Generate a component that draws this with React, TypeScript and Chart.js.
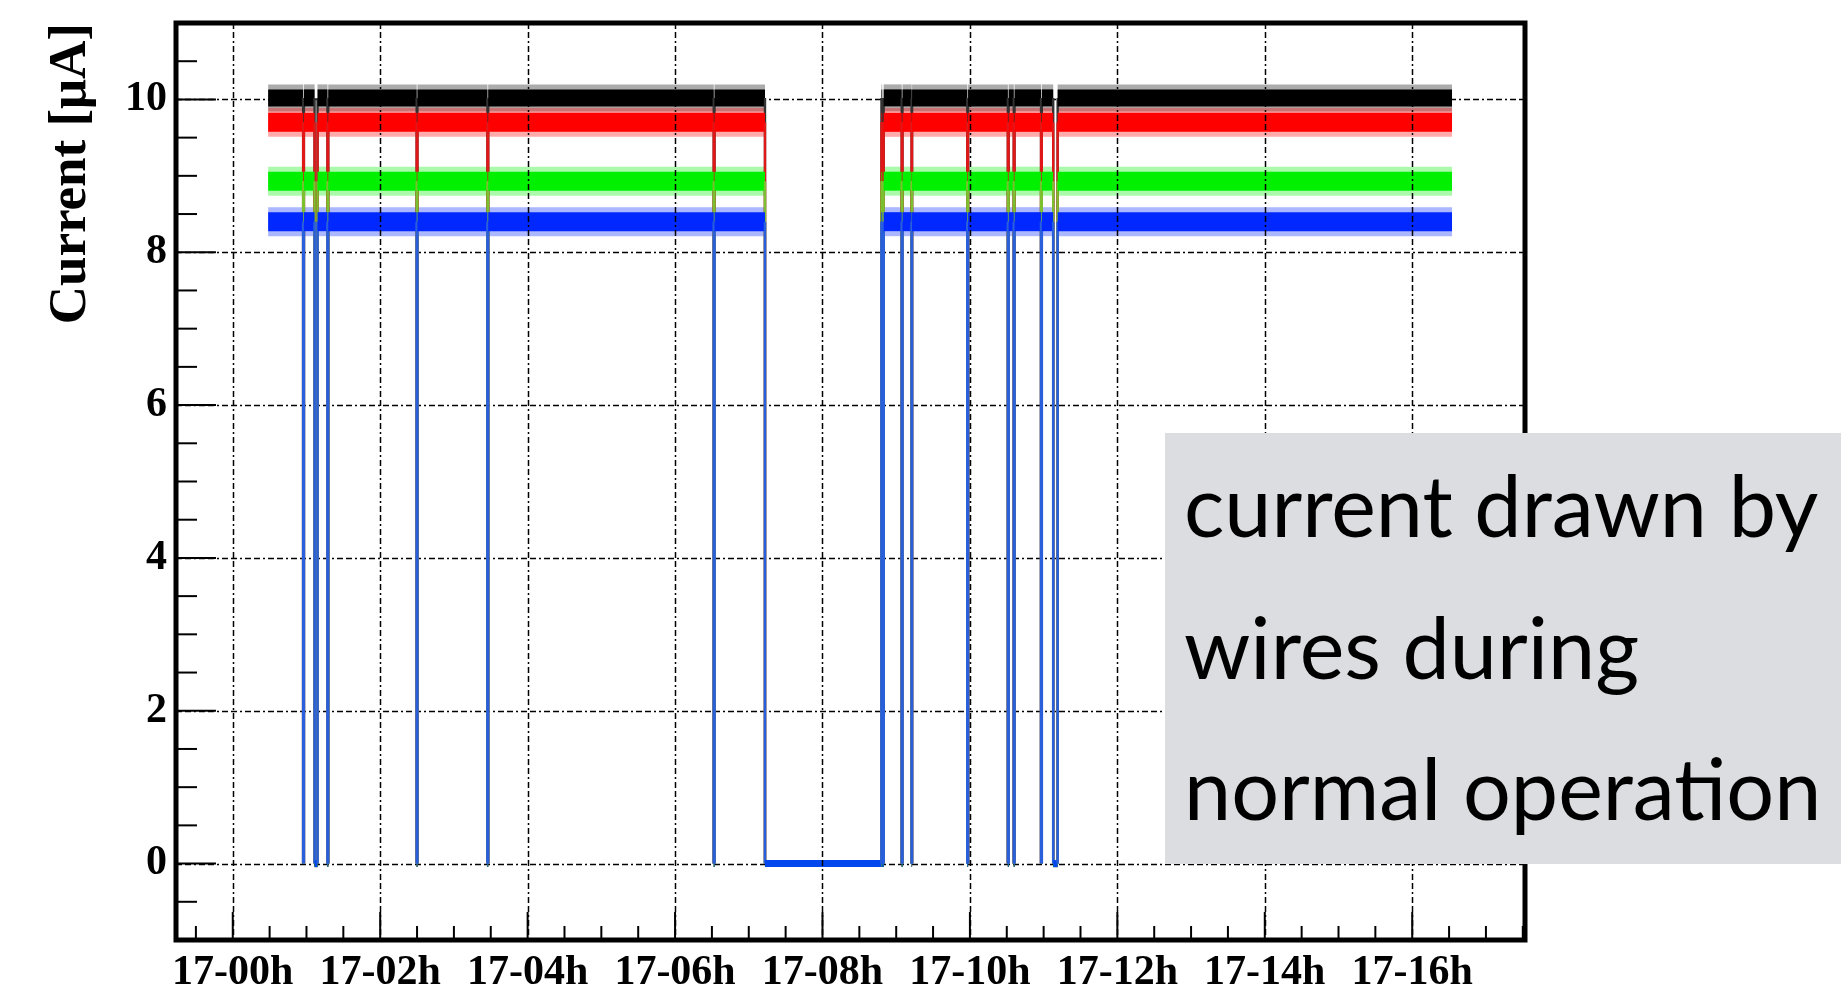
import React, { useEffect, useRef } from 'react';
import { Chart, registerables } from 'chart.js';

Chart.register(...registerables);

// ---- data (hours after 17-00h, current in µA) ----
const seriesNames = ['wire A', 'wire B', 'wire C', 'wire D'];
const seriesLevels = [10.02, 9.7, 8.93, 8.4];

const runStart = 0.48;
const runEnd = 16.54;
const tripStarts = [0.955, 1.11, 1.285, 2.495, 3.455, 6.525, 7.22, 8.81, 9.075, 9.21, 9.965, 10.515, 10.595, 10.965, 11.13];
const tripEnds = [0.965, 1.15, 1.295, 2.505, 3.465, 6.535, 8.8, 8.83, 9.085, 9.215, 9.975, 10.525, 10.605, 10.975, 11.19];

const xTickValues = [0, 2, 4, 6, 8, 10, 12, 14, 16];
const xTickLabels = ['17-00h', '17-02h', '17-04h', '17-06h', '17-08h', '17-10h', '17-12h', '17-14h', '17-16h'];
const yTickValues = [0, 2, 4, 6, 8, 10];
const yTickLabels = ['0', '2', '4', '6', '8', '10'];

const xMin = -0.77;
const xMax = 17.53;
const yMin = -1;
const yMax = 11;
const xMinorStep = 0.5;
const yMinorStep = 0.5;

// ---- styles ----
const seriesColors = ['#000000', '#ff0000', '#00f000', '#0028ff'];
const zeroColors = ['#000000', '#ff0000', '#00f000', '#0048ee'];
const haloColors = ['rgba(0,0,0,0.33)', 'rgba(255,0,0,0.33)', 'rgba(0,240,0,0.33)', 'rgba(0,40,255,0.33)'];
const dipColors = ['#333333', '#e01818', '#7cc030', '#2a5fdc'];
const dipWidths = [2.4, 2.4, 2.4, 2.6];
const bandWidths = [17, 19, 19, 19];
const zeroWidth = 7;
const haloExtra = 10;
const drawOrder = [3, 2, 1, 0];
const GRID_DASH = [6, 3, 6, 3, 2, 3];

function buildSeries(level: number) {
  const pts: { x: number; y: number }[] = [{ x: runStart, y: level }];
  tripStarts.forEach((s, i) => {
    pts.push({ x: s, y: level }, { x: s, y: 0 }, { x: tripEnds[i], y: 0 }, { x: tripEnds[i], y: level });
  });
  pts.push({ x: runEnd, y: level });
  return pts;
}

const SERIF = "'Liberation Serif', 'DejaVu Serif', serif";

const frameAndGrid = {
  id: 'frameAndGrid',
  beforeDatasetsDraw(chart: any) {
    const { ctx, chartArea: a, scales } = chart;
    const y = scales.y;
    ctx.save();
    ctx.strokeStyle = '#000';
    ctx.lineWidth = 1.5;
    ctx.setLineDash(GRID_DASH);
    yTickValues.forEach((v) => {
      const py = Math.round(y.getPixelForValue(v)) + 0.5;
      ctx.beginPath();
      ctx.moveTo(a.left, py);
      ctx.lineTo(a.right, py);
      ctx.stroke();
    });
    ctx.restore();
  },
  afterDatasetsDraw(chart: any) {
    const { ctx, chartArea: a, scales } = chart;
    const x = scales.x;
    const y = scales.y;
    ctx.save();
    ctx.strokeStyle = '#000';
    ctx.lineWidth = 1.5;
    ctx.setLineDash(GRID_DASH);
    xTickValues.forEach((v) => {
      const px = Math.round(x.getPixelForValue(v)) + 0.5;
      ctx.beginPath();
      ctx.moveTo(px, a.top);
      ctx.lineTo(px, a.bottom);
      ctx.stroke();
    });
    ctx.setLineDash([]);
    // inner tick marks
    ctx.lineWidth = 2;
    for (let v = yMin + yMinorStep; v < yMax - 1e-6; v += yMinorStep) {
      const major = yTickValues.some((t) => Math.abs(t - v) < 1e-6);
      const py = y.getPixelForValue(v);
      ctx.beginPath();
      ctx.moveTo(a.left, py);
      ctx.lineTo(a.left + (major ? 40 : 21), py);
      ctx.stroke();
    }
    const firstX = Math.ceil(xMin / xMinorStep) * xMinorStep;
    for (let v = firstX; v < xMax - 1e-6; v += xMinorStep) {
      const major = xTickValues.some((t) => Math.abs(t - v) < 1e-6);
      const px = x.getPixelForValue(v);
      ctx.beginPath();
      ctx.moveTo(px, a.bottom);
      ctx.lineTo(px, a.bottom - (major ? 28 : 14));
      ctx.stroke();
    }
    // thick frame
    ctx.lineWidth = 5;
    ctx.strokeRect(a.left, a.top, a.right - a.left, a.bottom - a.top);
    ctx.restore();
  },
};

export default function App() {
  const canvasRef = useRef<HTMLCanvasElement | null>(null);

  useEffect(() => {
    if (!canvasRef.current) return;
    const isDip = (ctx: any) => ctx.p0.parsed.x === ctx.p1.parsed.x;
    const isZero = (ctx: any) => ctx.p0.parsed.y === 0 && ctx.p1.parsed.y === 0;

    const bands = seriesNames.map((name, i) => ({
      label: name,
      data: buildSeries(seriesLevels[i]),
      borderColor: seriesColors[i],
      backgroundColor: seriesColors[i],
      borderWidth: bandWidths[i],
      borderCapStyle: 'butt',
      borderJoinStyle: 'miter',
      pointRadius: 0,
      tension: 0,
      fill: false,
      order: drawOrder[i],
      segment: {
        borderWidth: (ctx: any) => (isDip(ctx) ? dipWidths[i] : isZero(ctx) ? zeroWidth : bandWidths[i]),
        borderColor: (ctx: any) => (isDip(ctx) ? dipColors[i] : isZero(ctx) ? zeroColors[i] : seriesColors[i]),
      },
    }));

    const halos = seriesNames.map((name, i) => ({
      label: name + ' spread',
      data: buildSeries(seriesLevels[i]),
      borderColor: haloColors[i],
      borderWidth: bandWidths[i] + haloExtra,
      borderCapStyle: 'butt',
      borderJoinStyle: 'miter',
      pointRadius: 0,
      tension: 0,
      fill: false,
      order: 4 + drawOrder[i],
      segment: {
        borderColor: (ctx: any) => (isDip(ctx) || isZero(ctx) ? 'rgba(0,0,0,0)' : haloColors[i]),
      },
    }));

    const chart = new Chart(canvasRef.current, {
      type: 'line',
      data: { datasets: [...bands, ...halos] } as any,
      plugins: [frameAndGrid],
      options: {
        animation: false,
        responsive: false,
        devicePixelRatio: 1,
        layout: { padding: { left: 0, top: 23, right: 316, bottom: 0 } },
        plugins: { legend: { display: false }, tooltip: { enabled: false } },
        scales: {
          x: {
            type: 'linear',
            min: xMin,
            max: xMax,
            grid: { display: false, drawTicks: false },
            border: { display: false },
            afterBuildTicks: (s: any) => {
              s.ticks = xTickValues.map((v) => ({ value: v }));
            },
            afterFit: (s: any) => {
              s.height = 46;
              s.paddingLeft = 0;
              s.paddingRight = 0;
              s.paddingTop = 0;
              s.paddingBottom = 0;
            },
            ticks: {
              autoSkip: false,
              maxRotation: 0,
              minRotation: 0,
              padding: 8,
              color: '#000',
              font: { family: SERIF, size: 42, weight: 'bold' },
              callback: (v: any) => {
                const k = xTickValues.indexOf(Number(v));
                return k >= 0 ? xTickLabels[k] : '';
              },
            },
          },
          y: {
            type: 'linear',
            min: yMin,
            max: yMax,
            grid: { display: false, drawTicks: false },
            border: { display: false },
            afterBuildTicks: (s: any) => {
              s.ticks = yTickValues.map((v) => ({ value: v }));
            },
            afterFit: (s: any) => {
              s.width = 176;
              s.paddingLeft = 0;
              s.paddingRight = 0;
              s.paddingTop = 0;
              s.paddingBottom = 0;
            },
            ticks: {
              autoSkip: false,
              padding: 9,
              color: '#000',
              font: { family: SERIF, size: 42, weight: 'bold' },
              callback: (v: any) => {
                const k = yTickValues.indexOf(Number(v));
                return k >= 0 ? yTickLabels[k] : '';
              },
            },
            title: {
              display: true,
              text: 'Current [\u03bcA]',
              align: 'end',
              color: '#000',
              font: { family: SERIF, size: 53, weight: 'bold' },
              padding: { top: 40, bottom: 0 },
            },
          },
        },
      } as any,
    });
    return () => chart.destroy();
  }, []);

  return (
    <div style={{ position: 'fixed', left: 0, top: 0, width: 1841, height: 986, background: '#fff', overflow: 'hidden' }}>
      <canvas ref={canvasRef} width={1841} height={986} style={{ display: 'block', width: 1841, height: 986 }} />
      <div
        style={{
          position: 'absolute',
          left: 1165,
          top: 433,
          width: 676,
          height: 431,
          boxSizing: 'border-box',
          background: '#dcdde0',
          paddingLeft: 19,
          paddingTop: 1,
          fontFamily: 'Lato, "Open Sans", sans-serif',
          fontSize: 84.5,
          lineHeight: '141.5px',
          color: '#000',
          whiteSpace: 'nowrap',
        }}
      >
        <div>current drawn by</div>
        <div>wires during</div>
        <div>normal operation</div>
      </div>
    </div>
  );
}
